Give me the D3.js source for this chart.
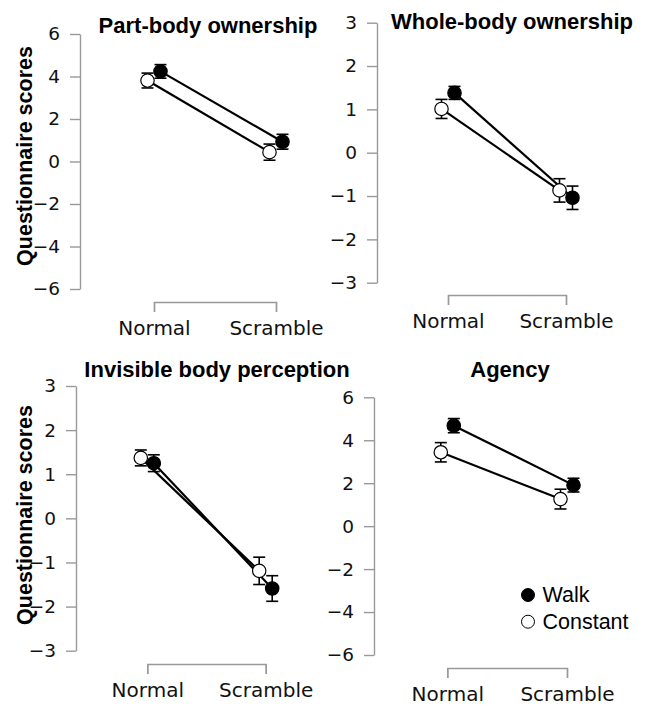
<!DOCTYPE html>
<html>
<head>
<meta charset="utf-8">
<script src="https://cdn.jsdelivr.net/npm/d3@7"></script>
<style>
  html, body { margin: 0; padding: 0; background: #fff; }
  svg { display: block; }
</style>
</head>
<body>
<svg id="chart" width="649" height="706"></svg>
<script>
// ---------- DATA ----------
const categories = ["Normal", "Scramble"];
const seriesNames = ["Walk", "Constant"];
const panelTitles = ["Part-body ownership", "Whole-body ownership", "Invisible body perception", "Agency"];
const yTicks1 = [-6, -4, -2, 0, 2, 4, 6];
const yTicks2 = [-3, -2, -1, 0, 1, 2, 3];
const yTicks3 = [-3, -2, -1, 0, 1, 2, 3];
const yTicks4 = [-6, -4, -2, 0, 2, 4, 6];

const partWalk = [4.24, 0.93],   partWalkErr = [0.32, 0.35];
const partConst = [3.81, 0.44],  partConstErr = [0.35, 0.38];
const wholeWalk = [1.38, -1.04], wholeWalkErr = [0.15, 0.27];
const wholeConst = [1.01, -0.87], wholeConstErr = [0.22, 0.27];
const invisWalk = [1.25, -1.59], invisWalkErr = [0.19, 0.29];
const invisConst = [1.37, -1.19], invisConstErr = [0.18, 0.31];
const agencyWalk = [4.68, 1.91], agencyWalkErr = [0.33, 0.32];
const agencyConst = [3.44, 1.26], agencyConstErr = [0.45, 0.46];

// ---------- LAYOUT ----------
const panels = [
  { title: panelTitles[0], ticks: yTicks1, walk: partWalk, walkErr: partWalkErr, cons: partConst, consErr: partConstErr,
    axX: 80, yTop: 34, yBot: 289, cx: [154, 276], brY: 302, titleX: 208, titleY: 33, ylab: { x: 32, y: 156 } },
  { title: panelTitles[1], ticks: yTicks2, walk: wholeWalk, walkErr: wholeWalkErr, cons: wholeConst, consErr: wholeConstErr,
    axX: 377, yTop: 22.7, yBot: 282.7, cx: [448, 566], brY: 295, titleX: 512, titleY: 29 },
  { title: panelTitles[2], ticks: yTicks3, walk: invisWalk, walkErr: invisWalkErr, cons: invisConst, consErr: invisConstErr,
    axX: 76, yTop: 386, yBot: 650.7, cx: [147.3, 265.7], brY: 664, titleX: 217, titleY: 377, ylab: { x: 32, y: 515 } },
  { title: panelTitles[3], ticks: yTicks4, walk: agencyWalk, walkErr: agencyWalkErr, cons: agencyConst, consErr: agencyConstErr,
    axX: 374, yTop: 397.3, yBot: 655, cx: [447.3, 567], brY: 668, titleX: 510, titleY: 377, legend: { x: 528, y: 595 } }
];

const svg = d3.select("#chart");
const axisColor = "#999";
const dodge = 6.5, r = 6.7, cap = 6;

panels.forEach(p => {
  const g = svg.append("g");
  const yMin = d3.min(p.ticks), yMax = d3.max(p.ticks);
  const y = d3.scaleLinear().domain([yMin, yMax]).range([p.yBot, p.yTop]);
  const x = d3.scalePoint().domain(categories).range(p.cx);

  // y axis
  const ya = g.append("g").attr("transform", `translate(${p.axX},0)`)
    .call(d3.axisLeft(y).tickValues(p.ticks).tickSizeInner(10).tickSizeOuter(0).tickPadding(10).tickFormat(d3.format("d")));
  ya.selectAll("path, line").attr("stroke", axisColor).attr("stroke-width", 1.4);
  ya.selectAll("text").attr("font-family", "DejaVu Sans").attr("font-size", 18.5).attr("fill", "#111");

  // x bracket axis
  const xa = g.append("g").attr("transform", `translate(0,${p.brY})`)
    .call(d3.axisBottom(x).tickSizeInner(10).tickSizeOuter(10).tickPadding(9));
  xa.selectAll("path, line").attr("stroke", axisColor).attr("stroke-width", 1.4);
  xa.selectAll("text").attr("font-family", "DejaVu Sans").attr("font-size", 20).attr("fill", "#111");

  // title
  g.append("text").attr("x", p.titleX).attr("y", p.titleY).attr("text-anchor", "middle")
    .attr("font-family", "Liberation Sans, Arial, sans-serif").attr("font-weight", "bold").attr("font-size", 22)
    .attr("fill", "#000").text(p.title);

  if (p.ylab) {
    g.append("text").attr("transform", `translate(${p.ylab.x},${p.ylab.y}) rotate(-90)`).attr("text-anchor", "middle")
      .attr("font-family", "Liberation Sans, Arial, sans-serif").attr("font-weight", "bold").attr("font-size", 21.5)
      .attr("fill", "#000").text("Questionnaire scores");
  }

  const series = [
    { name: seriesNames[0], vals: p.walk, errs: p.walkErr, off: dodge, fill: "#000" },
    { name: seriesNames[1], vals: p.cons, errs: p.consErr, off: -dodge, fill: "#fff" }
  ];
  const line = d3.line().x(d => d.x).y(d => d.y);
  series.forEach(s => {
    const pts = categories.map((c, i) => ({ x: x(c) + s.off, y: y(s.vals[i]), lo: y(s.vals[i] - s.errs[i]), hi: y(s.vals[i] + s.errs[i]) }));
    s.pts = pts;
    g.append("path").attr("d", line(pts)).attr("fill", "none").attr("stroke", "#000").attr("stroke-width", 2.2);
  });
  series.forEach(s => {
    s.pts.forEach(d => {
      g.append("line").attr("x1", d.x).attr("x2", d.x).attr("y1", d.lo).attr("y2", d.hi).attr("stroke", "#000").attr("stroke-width", 1.6);
      g.append("line").attr("x1", d.x - cap).attr("x2", d.x + cap).attr("y1", d.lo).attr("y2", d.lo).attr("stroke", "#000").attr("stroke-width", 1.6);
      g.append("line").attr("x1", d.x - cap).attr("x2", d.x + cap).attr("y1", d.hi).attr("y2", d.hi).attr("stroke", "#000").attr("stroke-width", 1.6);
    });
  });
  // draw constant first then walk on top
  [series[1], series[0]].forEach(s => {
    g.selectAll(null).data(s.pts).enter().append("circle")
      .attr("cx", d => d.x).attr("cy", d => d.y).attr("r", r)
      .attr("fill", s.fill).attr("stroke", "#000").attr("stroke-width", 1.2);
  });

  if (p.legend) {
    const lg = g.append("g");
    seriesNames.forEach((n, i) => {
      const cy = p.legend.y + i * 26.7;
      lg.append("circle").attr("cx", p.legend.x).attr("cy", cy).attr("r", 6.5)
        .attr("fill", i === 0 ? "#000" : "#fff").attr("stroke", "#000").attr("stroke-width", 1);
      lg.append("text").attr("x", p.legend.x + 14.5).attr("y", cy + 7)
        .attr("font-family", "Liberation Sans, Arial, sans-serif").attr("font-size", 21.5).attr("fill", "#000").text(n);
    });
  }
});
</script>
</body>
</html>
